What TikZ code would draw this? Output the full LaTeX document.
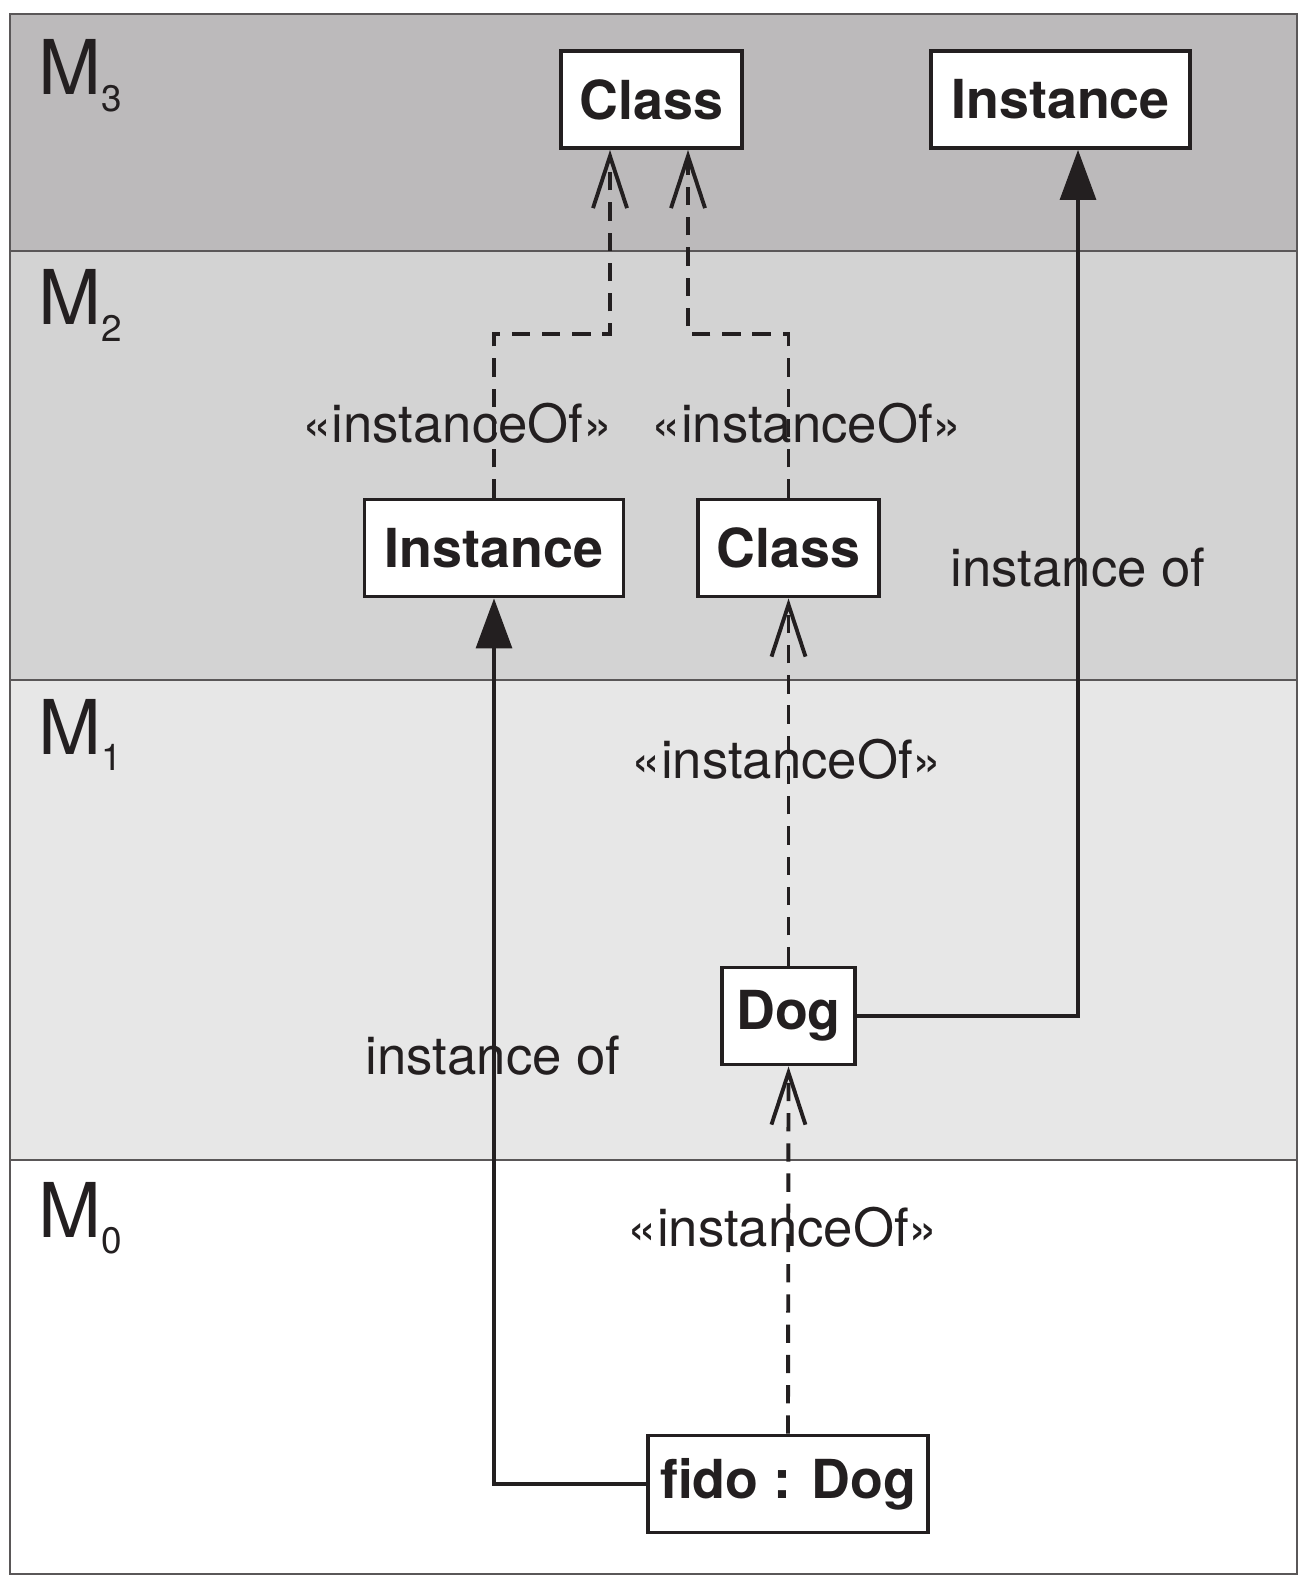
\documentclass[tikz,border=0pt]{standalone}
\usepackage{fontspec}
\setmainfont{TeX Gyre Heros}
\usetikzlibrary{arrows.meta}
\definecolor{ink}{RGB}{35,31,32}
\definecolor{levelthree}{RGB}{188,186,187}
\definecolor{leveltwo}{RGB}{211,211,211}
\definecolor{levelone}{RGB}{231,231,231}
\newcommand{\levelname}[1]{{\fontsize{21.5}{22}\selectfont M}\raisebox{-4.6pt}{\fontsize{10.5}{11}\selectfont #1}}

\begin{document}
\begin{tikzpicture}[
    box/.style={draw=ink, line width=1.1pt, fill=white, text=ink, font=\fontsize{15.3}{18}\selectfont\bfseries, minimum height=0.97cm},
    dep/.style={draw=ink, line width=1.1pt, dash pattern=on 5.2pt off 3.4pt, -{Straight Barb[length=5.2mm,width=3.4mm]}},
    inst/.style={draw=ink, line width=0.9pt, -{Triangle[length=5mm,width=3.6mm]}},
    lbl/.style={text=ink, font=\fontsize{15}{18}\selectfont, inner sep=0pt},
    layer/.style={text=ink, anchor=base west, inner sep=0pt}]
  \useasboundingbox (0,0) rectangle (13.02,-15.77);
  \fill[levelthree] (0.10,-0.14) rectangle (12.97,-2.51);
  \fill[leveltwo] (0.10,-2.51) rectangle (12.97,-6.80);
  \fill[levelone] (0.10,-6.80) rectangle (12.97,-11.60);
  \draw[ink!75, line width=0.5pt] (0.10,-0.14) rectangle (12.97,-15.74);
  \draw[ink!75, line width=0.5pt] (0.10,-2.51) -- (12.97,-2.51);
  \draw[ink!75, line width=0.5pt] (0.10,-6.80) -- (12.97,-6.80);
  \draw[ink!75, line width=0.5pt] (0.10,-11.60) -- (12.97,-11.60);

  \node[layer] (mthree) at (0.38,-0.95) {\levelname{3}};
  \node[layer] (mtwo) at (0.38,-3.25) {\levelname{2}};
  \node[layer] (mone) at (0.38,-7.54) {\levelname{1}};
  \node[layer] (mzero) at (0.38,-12.37) {\levelname{0}};

  \node[box, minimum width=1.81cm] (ClassA) at (6.515,-0.995) {Class};
  \node[box, minimum width=2.59cm] (InstA) at (10.605,-0.995) {Instance};
  \node[box, minimum width=2.59cm] (InstB) at (4.94,-5.48) {Instance};
  \node[box, minimum width=1.81cm] (ClassB) at (7.885,-5.48) {Class};
  \node[box, minimum width=1.33cm] (Dog) at (7.885,-10.16) {Dog};
  \node[box, minimum width=2.78cm] (fido) at (7.88,-14.84) {fido : Dog};

  \coordinate (kneeA) at (6.10,-3.34);
  \coordinate (kneeB) at (6.88,-3.34);
  \draw[dep] (InstB.north) |- (kneeA) -- (kneeA |- ClassA.south);
  \draw[dep] (ClassB.north) |- (kneeB) -- (kneeB |- ClassA.south);
  \draw[dep] (Dog.north) -- (ClassB.south);
  \draw[dep] (fido.north) -- (Dog.south);
  \draw[inst] (fido.west) -| (InstB.south);
  \draw[inst] (Dog.east) -| ([xshift=1.75mm]InstA.south);

  \node[lbl] (depA) at (4.575,-4.23) {«instanceOf»};
  \node[lbl] (depB) at (8.07,-4.23) {«instanceOf»};
  \node[lbl] (depC) at (7.87,-7.59) {«instanceOf»};
  \node[lbl] (depD) at (7.83,-12.27) {«instanceOf»};
  \node[lbl] (instofA) at (4.93,-10.56) {instance of};
  \node[lbl] (instofB) at (10.78,-5.68) {instance of};
\end{tikzpicture}
\end{document}
